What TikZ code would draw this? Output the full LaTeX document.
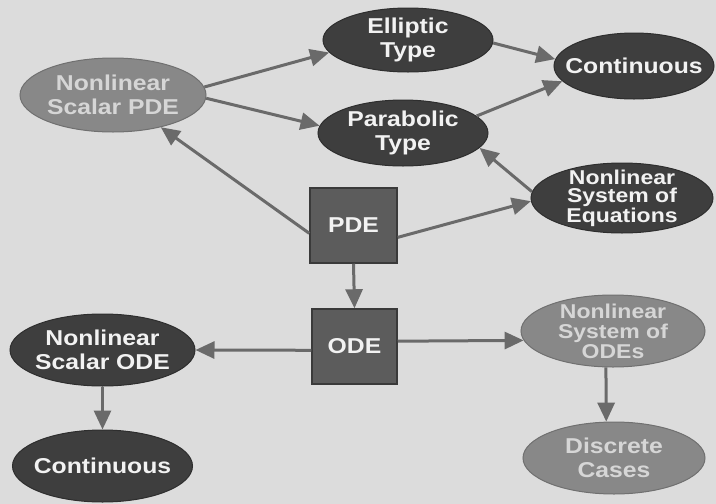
\documentclass[tikz,border=0pt]{standalone}
\usepackage{fontspec}
\usetikzlibrary{shapes.geometric,arrows.meta}
\newfontfamily\dfont{Liberation Sans}[FakeStretch=1.15]
\definecolor{bgc}{HTML}{DCDCDC}
\definecolor{darkfill}{HTML}{3E3E3E}
\definecolor{darkline}{HTML}{2E2E2E}
\definecolor{lightfill}{HTML}{888888}
\definecolor{lightline}{HTML}{707070}
\definecolor{boxfill}{HTML}{5C5C5C}
\definecolor{boxline}{HTML}{3A3A3A}
\definecolor{arrowc}{HTML}{6A6A6A}
\definecolor{lighttext}{HTML}{D6D6D6}
\tikzset{
  darkell/.style={ellipse, draw=darkline, line width=1pt, fill=darkfill, inner sep=0pt},
  lightell/.style={ellipse, draw=lightline, line width=1pt, fill=lightfill, inner sep=0pt},
  boxnode/.style={rectangle, draw=boxline, line width=1.5pt, fill=boxfill, inner sep=0pt},
  lbl/.style={align=center, inner sep=0pt, text=white!95!black,
    font=\dfont\bfseries\fontsize{21.5}{24.5}\selectfont},
  lbltri/.style={lbl, font=\dfont\bfseries\fontsize{20}{18.5}\selectfont},
  lbltrib/.style={lbl, font=\dfont\bfseries\fontsize{20}{20}\selectfont},
  lbllight/.style={text=lighttext},
  arr/.style={draw=arrowc, line width=3pt, -{Triangle[length=19pt,width=17pt]}}
}
\begin{document}
\begin{tikzpicture}[x=1pt,y=-1pt]
\fill[bgc] (0,0) rectangle (716,504);
\useasboundingbox (0,0) rectangle (716,504);
% shapes
\node[lightell, minimum width=186pt, minimum height=74pt] (nspde) at (113,95) {};
\node[darkell, minimum width=170pt, minimum height=64pt] (ell) at (408,40) {};
\node[darkell, minimum width=160pt, minimum height=66pt] (cont1) at (634,66) {};
\node[darkell, minimum width=170pt, minimum height=66pt] (par) at (403,133) {};
\node[darkell, minimum width=182pt, minimum height=70pt] (nse) at (622,198) {};
\node[boxnode, minimum width=87pt, minimum height=75pt] (pde) at (353.5,225.5) {};
\node[boxnode, minimum width=85pt, minimum height=75pt] (ode) at (354.5,346.5) {};
\node[darkell, minimum width=185pt, minimum height=72pt] (nsode) at (102.5,350) {};
\node[darkell, minimum width=180pt, minimum height=72pt] (cont2) at (102.5,466) {};
\node[lightell, minimum width=184pt, minimum height=72pt] (nsys) at (613,331) {};
\node[lightell, minimum width=182pt, minimum height=72pt] (disc) at (614,458) {};
% labels
\node[lbl, lbllight] (nspde-t) at (nspde) {Nonlinear\\Scalar PDE};
\node[lbl] (ell-t) at (ell) {Elliptic\\Type};
\node[lbl] (cont1-t) at (cont1) {Continuous};
\node[lbl] (par-t) at (par) {Parabolic\\Type};
\node[lbltri] (nse-t) at (nse) {Nonlinear\\System of\\Equations};
\node[lbl] (pde-t) at (pde) {PDE};
\node[lbl] (ode-t) at (ode) {ODE};
\node[lbl] (nsode-t) at (nsode) {Nonlinear\\Scalar ODE};
\node[lbl] (cont2-t) at (cont2) {Continuous};
\node[lbltrib, lbllight] (nsys-t) at (nsys) {Nonlinear\\System of\\ODEs};
\node[lbl, lbllight] (disc-t) at (disc) {Discrete\\Cases};
% connectors
\draw[arr] (nspde.5) -- (ell.189);
\draw[arr] (nspde.-2) -- (par.175);
\draw[arr] (pde.190) -- (nspde.-34);
\draw[arr] (pde.-15) -- (nse.182);
\draw[arr] (nse.176) -- (par.-11);
\draw[arr] (ell.-2) -- (cont1.175);
\draw[arr] (par.13) -- (cont1.192);
\draw[arr] (pde.south) -- (ode.north);
\draw[arr] (ode.185) -- (nsode.east);
\draw[arr] (ode.7) -- (nsys.186);
\draw[arr] (nsode.south) -- (cont2.north);
\draw[arr] (nsys.259) -- (disc.102);
\end{tikzpicture}
\end{document}
